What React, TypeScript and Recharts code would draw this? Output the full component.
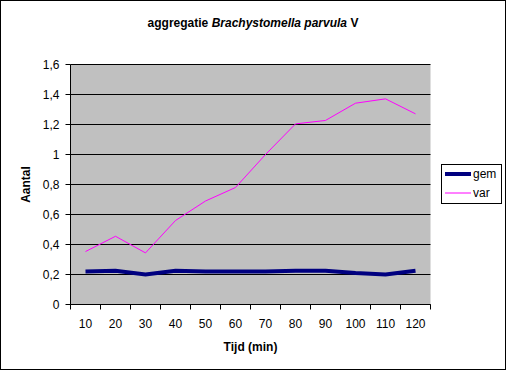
import React from 'react';
import { LineChart, Line, XAxis, YAxis, CartesianGrid, Legend } from 'recharts';

const times = [10, 20, 30, 40, 50, 60, 70, 80, 90, 100, 110, 120];
const gemValues = [0.22, 0.225, 0.2, 0.225, 0.22, 0.22, 0.22, 0.225, 0.225, 0.21, 0.2, 0.225];
const varValues = [0.353, 0.455, 0.344, 0.56, 0.69, 0.78, 1.0, 1.204, 1.227, 1.342, 1.371, 1.271];
const yTicks = [0, 0.2, 0.4, 0.6, 0.8, 1, 1.2, 1.4, 1.6];
const xTickMarks = [5, 15, 25, 35, 45, 55, 65, 75, 85, 95, 105, 115, 125];

const data = times.map((t, i) => ({ t, gem: gemValues[i], var: varValues[i] }));
const allXTicks = [...times, ...xTickMarks].sort((a, b) => a - b);

const FONT = "Arial, 'Liberation Sans', sans-serif";
const TICK_SIZE = 5;
const TICK_MARGIN = 10;

const XTick = (props: any) => {
  const { x, y, payload } = props;
  const v = payload.value;
  if (times.includes(v)) {
    return (
      <text x={x} y={y} dy="0.71em" textAnchor="middle" fontSize={12} fontFamily={FONT} fill="#000">
        {v}
      </text>
    );
  }
  const axisY = y - TICK_SIZE - TICK_MARGIN;
  return <line x1={x} x2={x} y1={axisY} y2={axisY + TICK_SIZE} stroke="#000" strokeWidth={1} />;
};

const LegendContent = (props: any) => {
  const payload = props.payload || [];
  return (
    <div
      style={{
        width: 61,
        height: 40,
        border: '1px solid #000',
        boxSizing: 'border-box',
        background: '#fff',
      }}
    >
      <svg width={59} height={38} style={{ display: 'block' }}>
        {payload.map((p: any, i: number) => {
          const cy = i === 0 ? 9 : 28;
          return (
            <g key={i}>
              <line
                x1={3}
                x2={29}
                y1={cy}
                y2={cy}
                stroke={p.color}
                strokeWidth={p.dataKey === 'gem' ? 4 : 1}
              />
              <text x={31} y={cy} dy="0.36em" fontSize={12} fontFamily={FONT} fill="#000">
                {p.value}
              </text>
            </g>
          );
        })}
      </svg>
    </div>
  );
};

export default function App() {
  return (
    <div style={{ position: 'absolute', left: 0, top: 0, width: 512, height: 375, background: '#fff' }}>
      <div
        style={{
          position: 'absolute',
          left: 0,
          top: 0,
          width: 506,
          height: 370,
          border: '1px solid #000',
          boxSizing: 'border-box',
        }}
      />
      <div
        style={{
          position: 'absolute',
          left: 0,
          top: 16,
          width: 506,
          textAlign: 'center',
          fontFamily: FONT,
          fontSize: 12,
          fontWeight: 'bold',
          lineHeight: '14px',
          color: '#000',
        }}
      >
        aggregatie <i>Brachystomella parvula</i> V
      </div>
      <div style={{ position: 'absolute', left: 0, top: 0 }}>
        <LineChart
          width={512}
          height={375}
          data={data}
          margin={{ top: 64.5, right: 81.5, bottom: 0, left: 0 }}
        >
          <CartesianGrid vertical={false} stroke="#000" fill="#C0C0C0" strokeWidth={1} />
          <XAxis
            dataKey="t"
            type="number"
            domain={[5, 125]}
            ticks={allXTicks}
            interval={0}
            height={70.5}
            tickSize={TICK_SIZE}
            tickMargin={TICK_MARGIN}
            tickLine={false}
            axisLine={{ stroke: '#000', strokeWidth: 1 }}
            tick={XTick}
            label={{
              content: (p: any) => {
                const vb = p.viewBox || {};
                return (
                  <text
                    x={vb.x + vb.width / 2}
                    y={vb.y + 42}
                    dy="0.36em"
                    textAnchor="middle"
                    fontSize={12}
                    fontWeight="bold"
                    fontFamily={FONT}
                    fill="#000"
                  >
                    Tijd (min)
                  </text>
                );
              },
            }}
          />
          <XAxis
            xAxisId="top"
            orientation="top"
            type="number"
            domain={[5, 125]}
            height={0}
            tick={false}
            tickLine={false}
            axisLine={{ stroke: '#808080', strokeWidth: 1 }}
          />
          <YAxis
            type="number"
            domain={[0, 1.6]}
            ticks={yTicks}
            interval={0}
            width={70.5}
            tickSize={5}
            tickMargin={6}
            tickLine={{ stroke: '#000' }}
            axisLine={{ stroke: '#000', strokeWidth: 1 }}
            tick={{ fontSize: 12, fill: '#000', fontFamily: FONT }}
            tickFormatter={(v: number) => String(Math.round(v * 10) / 10).replace('.', ',')}
            label={{
              content: (p: any) => {
                const vb = p.viewBox || {};
                const cx = vb.x + 26;
                const cy = vb.y + vb.height / 2;
                return (
                  <text
                    x={cx}
                    y={cy}
                    dy="0.36em"
                    transform={`rotate(-90 ${cx} ${cy})`}
                    textAnchor="middle"
                    fontSize={12}
                    fontWeight="bold"
                    fontFamily={FONT}
                    fill="#000"
                  >
                    Aantal
                  </text>
                );
              },
            }}
          />
          <YAxis
            yAxisId="right"
            orientation="right"
            type="number"
            domain={[0, 1.6]}
            width={0}
            tick={false}
            tickLine={false}
            axisLine={{ stroke: '#808080', strokeWidth: 1 }}
          />
          <Legend
            layout="vertical"
            align="center"
            verticalAlign="middle"
            content={LegendContent}
            wrapperStyle={{ left: 441, top: 164, width: 61, height: 40 }}
          />
          <Line
            type="linear"
            dataKey="gem"
            name="gem"
            stroke="#000080"
            strokeWidth={4}
            dot={false}
            activeDot={false}
            isAnimationActive={false}
          />
          <Line
            type="linear"
            dataKey="var"
            name="var"
            stroke="#FF00FF"
            strokeWidth={1}
            dot={false}
            activeDot={false}
            isAnimationActive={false}
          />
        </LineChart>
      </div>
    </div>
  );
}
